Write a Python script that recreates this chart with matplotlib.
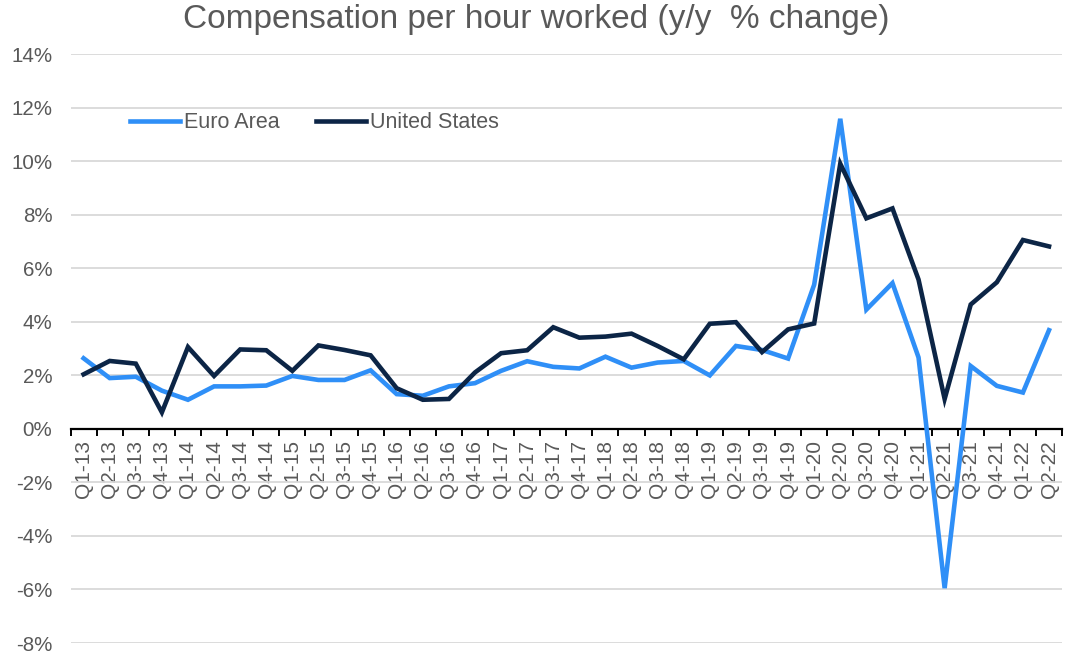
import matplotlib
matplotlib.use("Agg")
import matplotlib.pyplot as plt
from matplotlib.ticker import FixedLocator, FuncFormatter

#Chart data (y/y % change)
quarters = ["Q1-13", "Q2-13", "Q3-13", "Q4-13", "Q1-14", "Q2-14", "Q3-14", "Q4-14",
            "Q1-15", "Q2-15", "Q3-15", "Q4-15", "Q1-16", "Q2-16", "Q3-16", "Q4-16",
            "Q1-17", "Q2-17", "Q3-17", "Q4-17", "Q1-18", "Q2-18", "Q3-18", "Q4-18",
            "Q1-19", "Q2-19", "Q3-19", "Q4-19", "Q1-20", "Q2-20", "Q3-20", "Q4-20",
            "Q1-21", "Q2-21", "Q3-21", "Q4-21", "Q1-22", "Q2-22"]
euro_area = [2.64, 1.90, 1.95, 1.43, 1.09, 1.59, 1.59, 1.62, 1.98, 1.83, 1.83, 2.19,
             1.30, 1.24, 1.59, 1.71, 2.17, 2.53, 2.32, 2.26, 2.70, 2.29, 2.48, 2.54,
             2.00, 3.10, 2.95, 2.63, 5.39, 11.59, 4.46, 5.45, 2.67, -5.95, 2.35, 1.61,
             1.36, 3.69]
united_states = [2.04, 2.54, 2.44, 0.62, 3.06, 1.98, 2.97, 2.94, 2.17, 3.12, 2.95, 2.75,
                 1.52, 1.09, 1.12, 2.11, 2.83, 2.94, 3.80, 3.41, 3.45, 3.56, 3.10, 2.60,
                 3.93, 3.99, 2.87, 3.72, 3.94, 9.91, 7.87, 8.24, 5.58, 1.12, 4.65, 5.48,
                 7.06, 6.82]
y_ticks = [-8, -6, -4, -2, 0, 2, 4, 6, 8, 10, 12, 14]

txt_col = "#595959"
plt.rcParams["font.family"] = ["Liberation Sans", "DejaVu Sans"]

fig = plt.figure(figsize=(10.69, 6.54), dpi=100)
ax = fig.add_axes([0.066, 0.0168, 0.9275, 0.9002])

pos = list(range(len(quarters)))
ax.plot(pos, euro_area, color="#2f8ff7", lw=3.3, label="Euro Area", solid_joinstyle="miter", zorder=3)
ax.plot(pos, united_states, color="#0c2546", lw=3.3, label="United States", solid_joinstyle="miter", zorder=4)

ax.set_xlim(-0.5, len(quarters) - 0.5)
ax.set_ylim(-8, 14)

#y axis
ax.set_yticks(y_ticks)
ax.yaxis.set_major_formatter(FuncFormatter(lambda v, p: "%d%%" % v))
ax.tick_params(axis="y", length=0, pad=13, labelsize=14.8, labelcolor=txt_col)
ax.grid(axis="y", color="#d9d9d9", lw=1.3, zorder=0)

#x axis sits at 0, category labels under it
ax.spines["bottom"].set_position(("data", 0))
ax.spines["bottom"].set_linewidth(1.6)
ax.spines["bottom"].set_zorder(2)
for s in ["top", "right", "left"]:
    ax.spines[s].set_visible(False)
ax.set_xticks(pos)
ax.set_xticklabels(quarters, rotation=90, fontsize=15, color=txt_col)
ax.xaxis.set_minor_locator(FixedLocator([p - 0.5 for p in range(len(quarters) + 1)]))
ax.tick_params(axis="x", which="major", length=0, pad=8)
ax.tick_params(axis="x", which="minor", length=5, width=1.4, direction="out", color="black")

fig.text(0.502, 0.970, "Compensation per hour worked (y/y  % change)", ha="center", va="center",
         fontsize=24, color=txt_col)

ax.legend(loc="center left", bbox_to_anchor=(130 / 1069, 1 - 123 / 654), bbox_transform=fig.transFigure,
          ncol=2, frameon=False, fontsize=15.5, handlelength=2.3, handletextpad=0.2, columnspacing=1.7,
          borderpad=0, borderaxespad=0, labelcolor=txt_col)

plt.savefig("out.png", dpi=100)
plt.close()
